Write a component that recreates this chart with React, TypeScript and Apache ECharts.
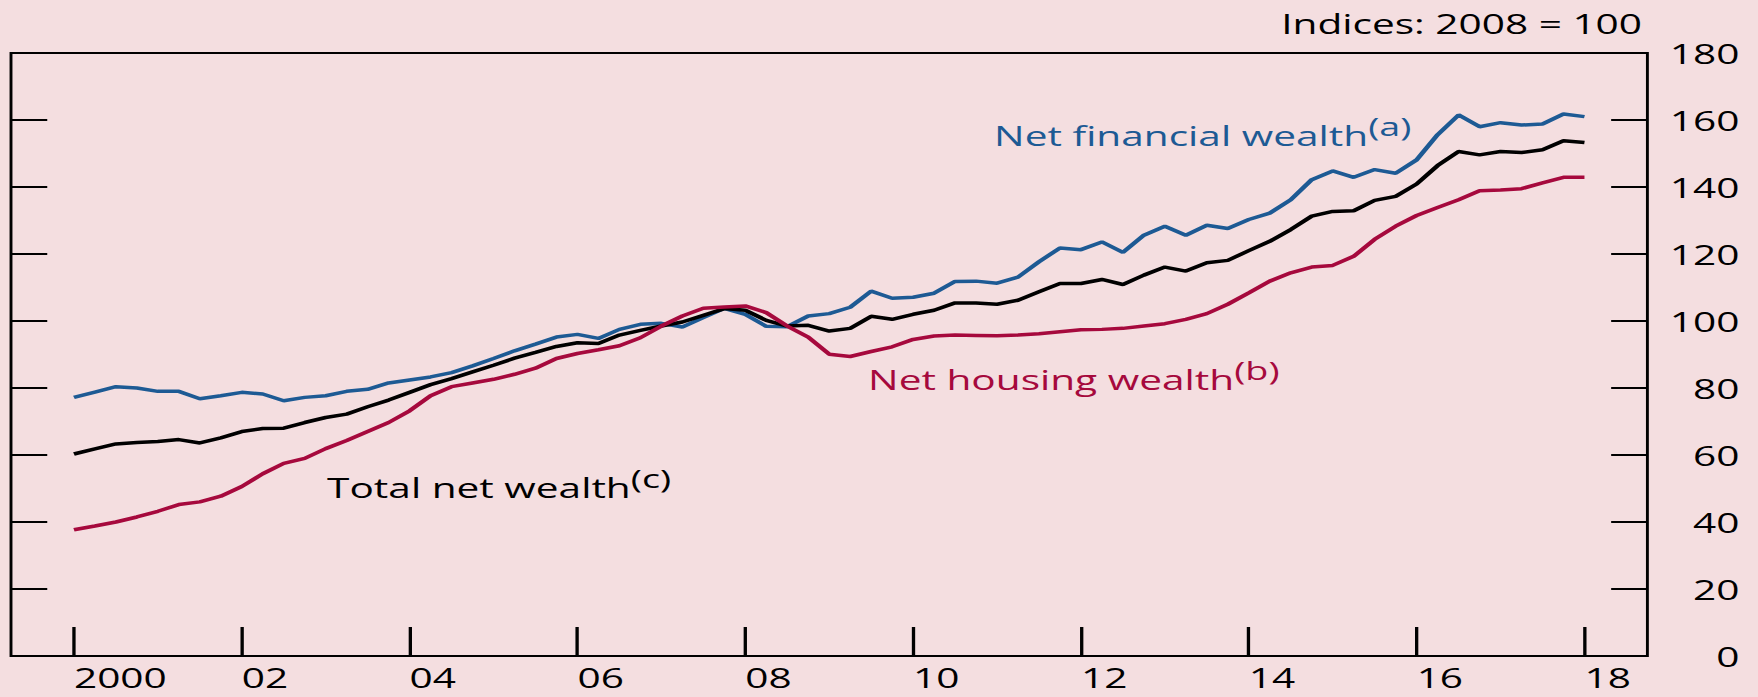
import React, { useEffect, useRef } from "react";
import * as echarts from "echarts";

// ---- data (quarterly, 2000 Q1 .. 2018 Q1), indices 2008 = 100 ----
const netFinancial = [
  77.2, 78.8, 80.4, 80.0, 79.0, 79.0, 76.8, 77.7, 78.7, 78.2, 76.2, 77.2, 77.7,
  79.0, 79.6, 81.5, 82.4, 83.3, 84.6, 86.6, 88.8, 91.1, 93.1, 95.2, 96.0, 94.8,
  97.5, 99.0, 99.3, 98.2, 101.0, 103.8, 102.0, 98.4, 98.3, 101.5, 102.2, 104.1,
  108.9, 106.8, 107.1, 108.3, 111.8, 111.9, 111.3, 113.1, 117.7, 121.8, 121.3, 123.6, 120.5,
  125.6, 128.3, 125.6, 128.6, 127.6, 130.3, 132.2, 136.2, 142.2, 144.8, 142.9,
  145.2, 144.1, 148.1, 155.6, 161.5, 158.0, 159.2, 158.5, 158.8, 161.8, 161.0,
];
const totalNet = [
  60.3, 61.8, 63.3, 63.7, 64.0, 64.6, 63.6, 65.1, 67.0, 67.9, 68.0, 69.7, 71.2,
  72.2, 74.4, 76.4, 78.7, 81.0, 82.8, 84.8, 86.8, 88.9, 90.6, 92.4, 93.5, 93.3,
  95.8, 97.2, 98.5, 99.7, 101.7, 103.7, 103.2, 100.2, 98.5, 98.7, 97.0, 97.8,
  101.4, 100.5, 102.0, 103.2, 105.4, 105.4, 105.0, 106.2, 108.7, 111.2, 111.2, 112.4, 110.9,
  113.7, 116.1, 114.9, 117.4, 118.1, 121.0, 123.8, 127.3, 131.3, 132.7, 132.9,
  136.0, 137.2, 140.9, 146.4, 150.6, 149.6, 150.6, 150.3, 151.1, 153.8, 153.3,
];
const netHousing = [
  37.7, 38.8, 40.0, 41.5, 43.2, 45.2, 46.0, 47.7, 50.6, 54.4, 57.5, 59.0, 61.9,
  64.3, 67.0, 69.7, 73.2, 77.7, 80.4, 81.5, 82.6, 84.1, 85.9, 88.8, 90.3, 91.4,
  92.6, 95.0, 98.5, 101.5, 103.8, 104.2, 104.5, 102.5, 98.5, 95.2, 90.1, 89.4,
  90.9, 92.3, 94.5, 95.5, 95.8, 95.7, 95.6, 95.8, 96.2, 96.8, 97.4, 97.5, 97.8,
  98.5, 99.2, 100.5, 102.2, 105.0, 108.4, 111.9, 114.4, 116.1, 116.6, 119.3,
  124.4, 128.3, 131.5, 133.9, 136.2, 138.9, 139.1, 139.5, 141.2, 142.9, 142.9,
];
const startYear = 2000;
const tickYears = [2000, 2002, 2004, 2006, 2008, 2010, 2012, 2014, 2016, 2018];
const tickLabels = ["2000", "02", "04", "06", "08", "10", "12", "14", "16", "18"];
const yTicks = { min: 0, max: 180, interval: 20 };

const BLUE = "#1d5a94";
const RED = "#a6093d";
const BG = "#f4dee0";
const FONT = '"Open Sans", "Noto Sans", sans-serif';
const S = 1.45; // horizontal stretch of the reference
const W = 1758 / S;
const H = 697;

const toPairs = (vals: number[]) => vals.map((v, i) => [startYear + i / 4, v]);

export default function App() {
  const ref = useRef<HTMLDivElement>(null);
  useEffect(() => {
    if (!ref.current) return;
    const chart = echarts.init(ref.current, undefined, { renderer: "svg" });
    const rich = (fill: string) => ({
      m: { fontSize: 28, lineHeight: 46, fontFamily: FONT, fill },
      s: { fontSize: 26, lineHeight: 26, fontFamily: FONT, fill, verticalAlign: "top" },
    });
    chart.setOption({
      animation: false,
      backgroundColor: BG,
      grid: {
        left: 11 / S,
        right: 110 / S,
        top: 53,
        bottom: 41,
        show: true,
        borderColor: "#000",
        borderWidth: 2,
        backgroundColor: "transparent",
      },
      xAxis: {
        type: "value",
        min: 1999.25,
        max: 2018.75,
        axisLine: { show: false },
        splitLine: { show: false },
        axisTick: {
          show: true,
          inside: true,
          length: 29,
          customValues: tickYears,
          lineStyle: { color: "#000", width: 2.3 },
        },
        axisLabel: {
          customValues: tickYears,
          formatter: (v: number) => tickLabels[tickYears.indexOf(Math.round(v))] ?? "",
          align: "left",
          margin: 10.5,
          lineHeight: 22,
          fontSize: 28,
          fontFamily: FONT,
          color: "#000",
        },
      },
      yAxis: [
        {
          type: "value",
          position: "right",
          ...yTicks,
          axisLine: { show: false },
          splitLine: { show: false },
          axisTick: { show: true, inside: true, length: 25, lineStyle: { color: "#000", width: 2 } },
          axisLabel: { align: "right", margin: 63.5, fontSize: 28, fontFamily: FONT, color: "#000" },
        },
        {
          type: "value",
          position: "left",
          ...yTicks,
          axisLine: { show: false },
          splitLine: { show: false },
          axisTick: { show: true, inside: true, length: 25, lineStyle: { color: "#000", width: 2 } },
          axisLabel: { show: false },
        },
      ],
      series: [
        {
          name: "Net financial wealth",
          type: "line",
          data: toPairs(netFinancial),
          showSymbol: false,
          lineStyle: { color: BLUE, width: 3.5 },
          itemStyle: { color: BLUE },
        },
        {
          name: "Total net wealth",
          type: "line",
          data: toPairs(totalNet),
          showSymbol: false,
          lineStyle: { color: "#000", width: 3.5 },
          itemStyle: { color: "#000" },
        },
        {
          name: "Net housing wealth",
          type: "line",
          data: toPairs(netHousing),
          showSymbol: false,
          lineStyle: { color: RED, width: 3.5 },
          itemStyle: { color: RED },
        },
      ],
      graphic: [
        {
          type: "text",
          x: 1642 / S,
          y: 23.6,
          style: {
            text: "Indices: 2008 = 100",
            fill: "#000",
            font: `28px ${FONT}`,
            align: "right",
            verticalAlign: "middle",
          },
        },
        {
          type: "text",
          x: 997 / S - 2,
          y: 135.2,
          style: {
            text: "{m|Net financial wealth}{s|(a)}",
            rich: rich(BLUE),
            fill: BLUE,
            align: "left",
            verticalAlign: "middle",
          },
        },
        {
          type: "text",
          x: 871 / S - 2,
          y: 379.4,
          style: {
            text: "{m|Net housing wealth}{s|(b)}",
            rich: rich(RED),
            fill: RED,
            align: "left",
            verticalAlign: "middle",
          },
        },
        {
          type: "text",
          x: 330 / S - 2,
          y: 487.4,
          style: {
            text: "{m|Total net wealth}{s|(c)}",
            rich: rich("#000"),
            fill: "#000",
            align: "left",
            verticalAlign: "middle",
          },
        },
      ],
    });
    return () => chart.dispose();
  }, []);
  return (
    <div
      style={{
        position: "fixed",
        left: 0,
        top: 0,
        width: 1758,
        height: H,
        overflow: "hidden",
        background: BG,
      }}
    >
      <div
        ref={ref}
        style={{
          width: W,
          height: H,
          transform: `scaleX(${S})`,
          transformOrigin: "0 0",
        }}
      />
    </div>
  );
}
